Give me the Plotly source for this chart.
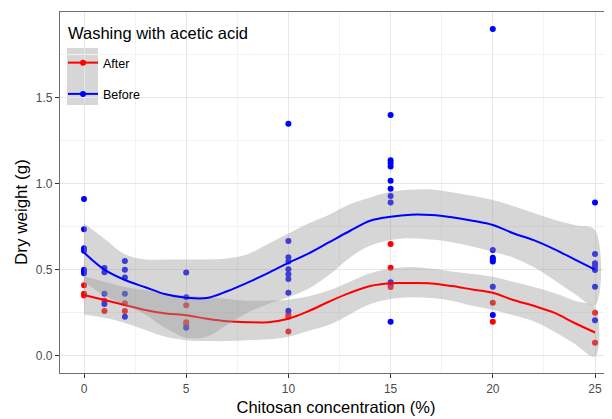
import plotly.graph_objects as go

# ---- data ----
conc = list(range(26))

after_fit = [0.353, 0.324, 0.295, 0.266, 0.246, 0.235, 0.215, 0.200, 0.195, 0.195, 0.215, 0.260, 0.315,
             0.365, 0.405, 0.421, 0.422, 0.420, 0.405, 0.385, 0.366, 0.324, 0.290, 0.250, 0.190, 0.135]
after_hi = [0.460, 0.430, 0.400, 0.380, 0.360, 0.350, 0.340, 0.330, 0.320, 0.320, 0.325, 0.345, 0.380,
            0.430, 0.480, 0.505, 0.515, 0.505, 0.490, 0.475, 0.459, 0.430, 0.400, 0.365, 0.320, 0.280]
after_lo = [0.240, 0.220, 0.190, 0.150, 0.110, 0.090, 0.085, 0.085, 0.090, 0.095, 0.110, 0.145, 0.180,
            0.240, 0.300, 0.330, 0.340, 0.335, 0.320, 0.290, 0.266, 0.235, 0.200, 0.140, 0.070, -0.005]

before_fit = [0.600, 0.500, 0.440, 0.398, 0.357, 0.337, 0.335, 0.375, 0.425, 0.480, 0.540, 0.595, 0.660,
              0.725, 0.785, 0.808, 0.820, 0.818, 0.805, 0.785, 0.760, 0.712, 0.672, 0.620, 0.560, 0.500]
before_hi = [0.770, 0.680, 0.590, 0.560, 0.560, 0.560, 0.560, 0.565, 0.590, 0.650, 0.710, 0.770, 0.820,
             0.880, 0.920, 0.953, 0.965, 0.967, 0.950, 0.930, 0.905, 0.870, 0.830, 0.790, 0.760, 0.730]
before_lo = [0.430, 0.350, 0.295, 0.240, 0.160, 0.105, 0.110, 0.180, 0.250, 0.300, 0.340, 0.390, 0.470,
             0.570, 0.640, 0.673, 0.683, 0.675, 0.660, 0.635, 0.605, 0.570, 0.515, 0.440, 0.360, 0.290]

after_x = [0, 0, 0, 1, 1, 2, 2, 5, 5, 5, 10, 10, 10, 15, 15, 15, 15, 20, 20, 25, 25]
after_y = [0.41, 0.36, 0.35, 0.32, 0.26, 0.305, 0.26, 0.293, 0.195, 0.18, 0.24, 0.227, 0.14,
           0.649, 0.512, 0.41, 0.40, 0.308, 0.198, 0.25, 0.076]

before_x = [0, 0, 0, 0, 0, 0, 0, 1, 1, 1, 1, 2, 2, 2, 2, 2, 5, 5, 5,
            10, 10, 10, 10, 10, 10, 10, 10, 10,
            15, 15, 15, 15, 15, 15, 15, 15, 15, 15,
            20, 20, 20, 20, 20, 20, 20,
            25, 25, 25, 25, 25, 25, 25]
before_y = [0.911, 0.735, 0.624, 0.61, 0.50, 0.49, 0.48, 0.51, 0.485, 0.36, 0.30,
            0.55, 0.50, 0.455, 0.36, 0.227, 0.483, 0.34, 0.163,
            1.349, 0.667, 0.572, 0.547, 0.502, 0.473, 0.446, 0.366, 0.262,
            1.40, 1.137, 1.12, 1.10, 1.017, 0.971, 0.928, 0.89, 0.427, 0.198,
            1.90, 0.614, 0.57, 0.56, 0.547, 0.401, 0.237,
            0.89, 0.591, 0.537, 0.52, 0.498, 0.401, 0.206]

groups = ["After", "Before"]
legend_title = "Washing with acetic acid"
x_title = "Chitosan concentration (%)"
y_title = "Dry weight (g)"
x_ticks = [0, 5, 10, 15, 20, 25]
y_ticks = [0.0, 0.5, 1.0, 1.5]

RED = "#FF0000"
BLUE = "#0000FF"
RIBBON = "rgba(153,153,153,0.4)"
FONT = "Liberation Sans, Arial, sans-serif"

fig = go.Figure()

# points (drawn first, ribbons lie over them)
fig.add_trace(go.Scatter(x=after_x, y=after_y, mode="markers",
                         marker=dict(color=RED, size=6), showlegend=False, hoverinfo="skip"))
fig.add_trace(go.Scatter(x=before_x, y=before_y, mode="markers",
                         marker=dict(color=BLUE, size=6), showlegend=False, hoverinfo="skip"))

for name, fit, lo, hi, col in [(groups[0], after_fit, after_lo, after_hi, RED),
                               (groups[1], before_fit, before_lo, before_hi, BLUE)]:
    fig.add_trace(go.Scatter(x=conc + conc[::-1], y=hi + lo[::-1], mode="lines",
                             fill="toself", fillcolor=RIBBON, line=dict(width=0, shape="spline"),
                             showlegend=False, hoverinfo="skip"))
    fig.add_trace(go.Scatter(x=conc, y=fit, mode="lines", name=name,
                             line=dict(color=col, width=2, shape="spline"),
                             legendgroup=name, showlegend=False))
    # legend entry (line + point)
    fig.add_trace(go.Scatter(x=[None], y=[None], mode="lines+markers", name=name,
                             line=dict(color=col, width=2), marker=dict(color=col, size=6),
                             legendgroup=name, showlegend=True))

# the page adds an 8px body margin, so the figure is drawn 8px in from top-left
OFF = 8
W, H = 612 - OFF, 419 - OFF
L, R, T, B = 60 - OFF, 0, 12 - OFF, 46
pw = W - L - R
ph = H - T - B

def px_x(px):
    return (px - OFF - L) / pw

def px_y(py):
    return (H - B - (py - OFF)) / ph

# grey key background as in ggplot legend keys
fig.add_shape(type="rect", xref="paper", yref="paper",
              x0=px_x(67), x1=px_x(98), y0=px_y(105), y1=px_y(48),
              fillcolor="#D6D6D6", line=dict(width=0), layer="below")

fig.add_annotation(text=legend_title, xref="paper", yref="paper",
                   x=px_x(66), y=px_y(33), xanchor="left", yanchor="middle",
                   showarrow=False, font=dict(size=16.5, color="#000000", family=FONT))

fig.add_annotation(text=y_title, xref="paper", yref="paper", textangle=-90,
                   x=px_x(21), y=px_y(212), xanchor="center", yanchor="middle",
                   showarrow=False, font=dict(size=17, color="#000000", family=FONT))

fig.update_layout(
    width=W, height=H,
    margin=dict(l=L, r=R, t=T, b=B, autoexpand=False),
    paper_bgcolor="white", plot_bgcolor="white",
    font=dict(family=FONT, size=12, color="#000000"),
    legend=dict(
        x=px_x(63), y=px_y(48), xanchor="left", yanchor="top",
        bgcolor="rgba(0,0,0,0)", font=dict(size=12.5, color="#000000"),
        tracegroupgap=12, itemwidth=30,
    ),
    xaxis=dict(
        range=[(60 - 84) / 20.44, (612 - 84) / 20.44],
        tickvals=x_ticks, ticktext=[str(v) for v in x_ticks],
        showgrid=True, gridcolor="#E6E6E6", gridwidth=1,
        minor=dict(dtick=2.5, tick0=2.5, showgrid=True, gridcolor="#F2F2F2", gridwidth=1),
        zeroline=False, showline=True, linecolor="#6E6E6E", linewidth=1.3, mirror=True,
        ticks="outside", ticklen=4, tickcolor="#333333",
        tickfont=dict(size=12, color="#4D4D4D"),
        title=dict(text=x_title, font=dict(size=16.5, color="#000000"), standoff=6),
        automargin=False,
    ),
    yaxis=dict(
        range=[(355.7 - 373) / 172, (355.7 - 12) / 172],
        tickvals=y_ticks, ticktext=["0.0", "0.5", "1.0", "1.5"],
        showgrid=True, gridcolor="#E6E6E6", gridwidth=1,
        minor=dict(dtick=0.25, tick0=0.25, showgrid=True, gridcolor="#F2F2F2", gridwidth=1),
        zeroline=False, showline=True, linecolor="#6E6E6E", linewidth=1.3,
        ticks="outside", ticklen=4, tickcolor="#333333",
        tickfont=dict(size=12, color="#4D4D4D"),
        automargin=False,
    ),
)

fig.write_html("out.html")
